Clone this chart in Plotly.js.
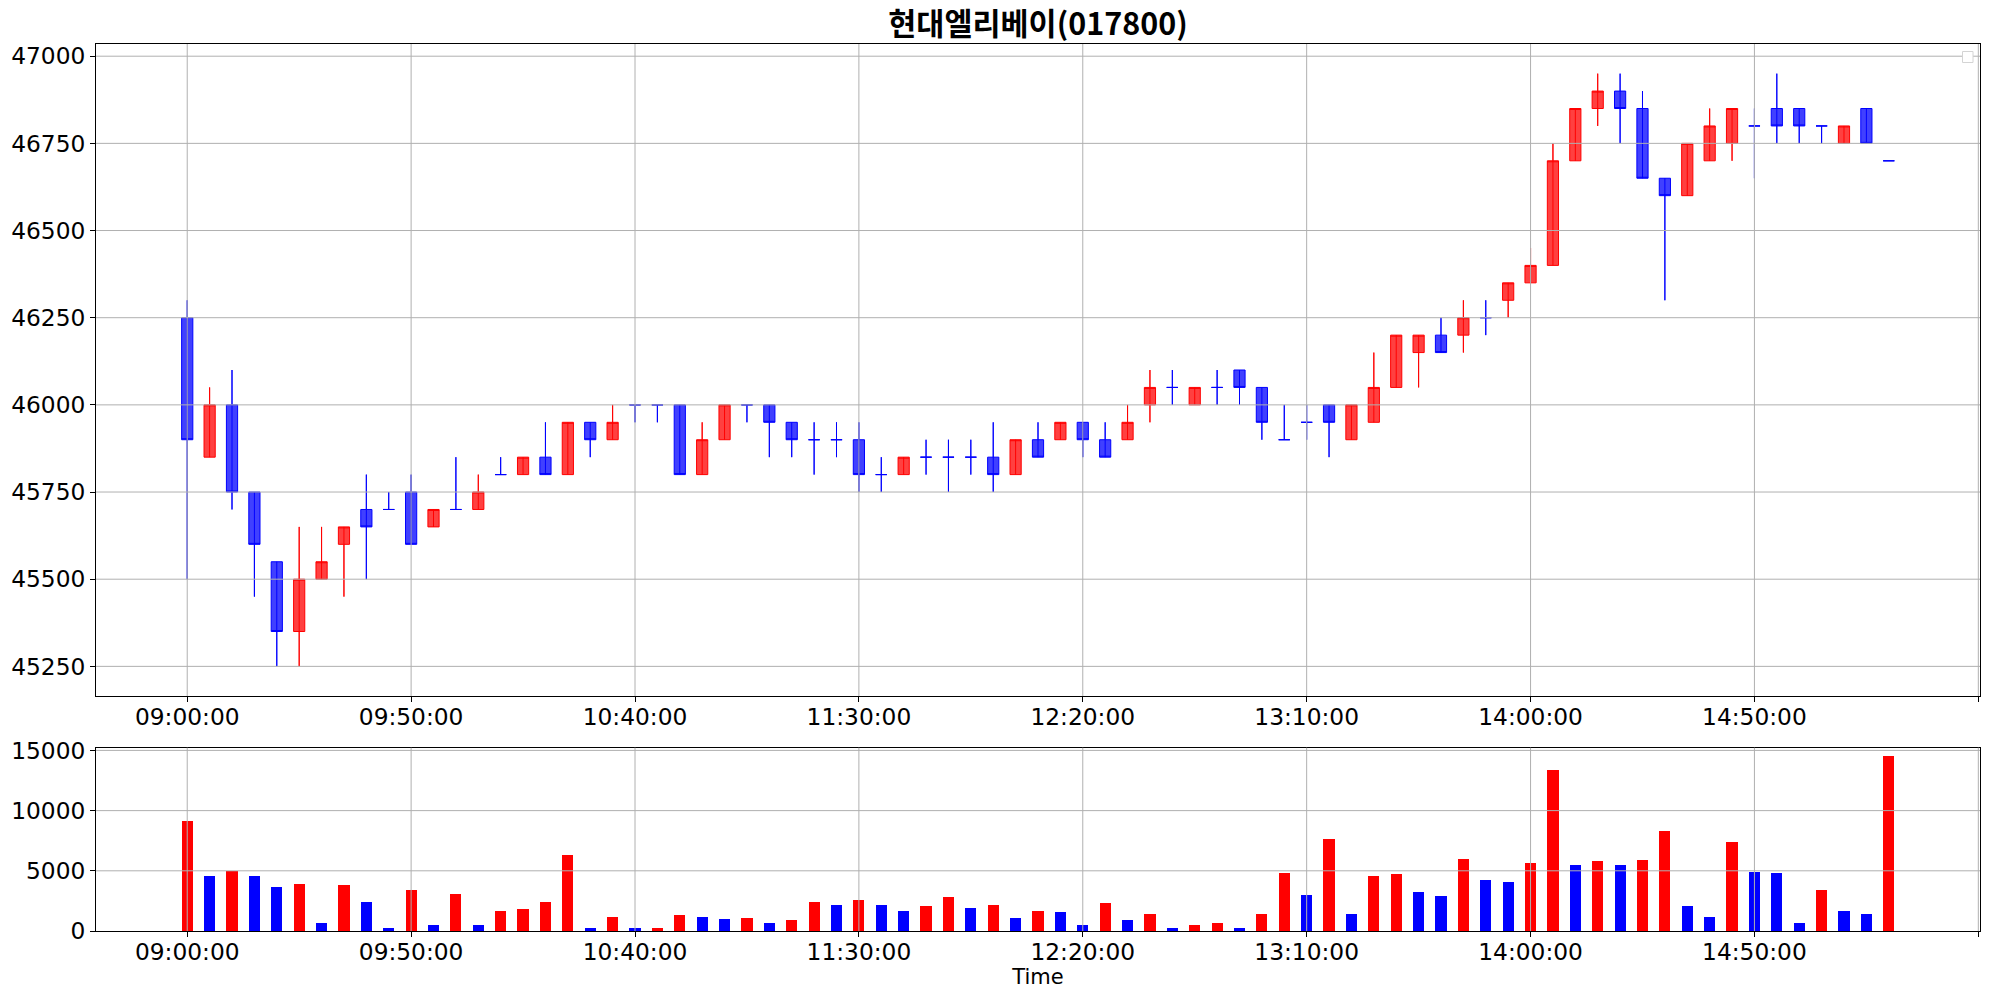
<!DOCTYPE html>
<html>
<head>
<meta charset="utf-8">
<script src="https://cdn.plot.ly/plotly-3.0.1.min.js"></script>
<style>html,body{margin:0;padding:0;background:#fff}#chart{width:1989px;height:999px}</style>
</head>
<body>
<div id="chart"></div>
<script>
const chartTitle = '현대엘리베이(017800)';
const xTitle = 'Time';

const times = [
 '09:00:00','09:05:00','09:10:00','09:15:00','09:20:00','09:25:00','09:30:00','09:35:00','09:40:00','09:45:00',
 '09:50:00','09:55:00','10:00:00','10:05:00','10:10:00','10:15:00','10:20:00','10:25:00','10:30:00','10:35:00',
 '10:40:00','10:45:00','10:50:00','10:55:00','11:00:00','11:05:00','11:10:00','11:15:00','11:20:00','11:25:00',
 '11:30:00','11:35:00','11:40:00','11:45:00','11:50:00','11:55:00','12:00:00','12:05:00','12:10:00','12:15:00',
 '12:20:00','12:25:00','12:30:00','12:35:00','12:40:00','12:45:00','12:50:00','12:55:00','13:00:00','13:05:00',
 '13:10:00','13:15:00','13:20:00','13:25:00','13:30:00','13:35:00','13:40:00','13:45:00','13:50:00','13:55:00',
 '14:00:00','14:05:00','14:10:00','14:15:00','14:20:00','14:25:00','14:30:00','14:35:00','14:40:00','14:45:00',
 '14:50:00','14:55:00','15:00:00','15:05:00','15:10:00','15:15:00','15:20:00'
];

const opens = [
 46250,45850,46000,45750,45550,45350,45500,45600,45700,45700,
 45750,45650,45700,45700,45800,45800,45850,45800,45950,45900,
 46000,46000,46000,45800,45900,46000,46000,45950,45900,45900,
 45900,45800,45800,45850,45850,45850,45850,45800,45900,45900,
 45950,45900,45900,46000,46050,46000,46050,46100,46050,45900,
 45950,46000,45900,45950,46050,46150,46200,46200,46250,46300,
 46350,46400,46700,46850,46900,46850,46650,46600,46700,46750,
 46800,46850,46850,46800,46750,46850,46700
];
const highs = [
 46300,46050,46100,45750,45550,45650,45650,45650,45800,45750,
 45800,45700,45850,45800,45850,45850,45950,45950,45950,46000,
 46000,46000,46000,45950,46000,46000,46000,45950,45950,45950,
 45950,45850,45850,45900,45900,45900,45950,45900,45950,45950,
 45950,45950,46000,46100,46100,46050,46100,46100,46050,46000,
 46000,46000,46000,46150,46200,46200,46250,46300,46300,46350,
 46450,46750,46850,46950,46950,46900,46650,46750,46850,46850,
 46850,46950,46850,46800,46800,46850,46700
];
const lows = [
 45500,45850,45700,45450,45250,45250,45500,45450,45500,45700,
 45600,45650,45700,45700,45800,45800,45800,45800,45850,45900,
 45950,45950,45800,45800,45900,45950,45850,45850,45800,45850,
 45750,45750,45800,45800,45750,45800,45750,45800,45850,45900,
 45850,45850,45900,45950,46000,46000,46000,46000,45900,45900,
 45900,45850,45900,45950,46050,46050,46150,46150,46200,46250,
 46350,46400,46700,46800,46750,46650,46300,46600,46700,46700,
 46650,46750,46750,46750,46750,46750,46700
];
const closes = [
 45900,46000,45750,45600,45350,45500,45550,45650,45650,45700,
 45600,45700,45700,45750,45800,45850,45800,45950,45900,45950,
 46000,46000,45800,45900,46000,46000,45950,45900,45900,45900,
 45800,45800,45850,45850,45850,45850,45800,45900,45850,45950,
 45900,45850,45950,46050,46050,46050,46050,46050,45950,45900,
 45950,45950,46000,46050,46200,46200,46150,46250,46250,46350,
 46400,46700,46850,46900,46850,46650,46600,46750,46800,46850,
 46800,46800,46800,46800,46800,46750,46700
];
const volumes = [
 9100,4550,4950,4550,3650,3900,700,3800,2400,250,
 3400,500,3050,500,1650,1800,2400,6300,250,1150,
 250,250,1300,1150,1000,1050,650,900,2450,2200,
 2550,2150,1700,2050,2800,1950,2200,1050,1700,1550,
 500,2300,900,1400,250,500,650,250,1400,4800,
 2950,7650,1450,4550,4700,3200,2900,5950,4200,4050,
 5650,13400,5450,5800,5450,5900,8300,2050,1150,7400,
 4900,4800,650,3400,1700,1400,14500
];
const priceTicks = [45250,45500,45750,46000,46250,46500,46750,47000];
const volumeTicks = [0,5000,10000,15000];

// ---------- derived ----------
const idx = times.map((t, i) => i);
const tickIdx = [];
for (let i = 0; i <= Math.ceil(times.length / 10) * 10; i += 10) tickIdx.push(i);
const tickText = tickIdx.map(i => times[i] || '');

const RED = '#ff0000', BLUE = '#0000ff';
const RED_FILL = 'rgba(255,0,0,0.75)', BLUE_FILL = 'rgba(0,0,255,0.75)';

function subset(cond) {
  const s = {x: [], open: [], high: [], low: [], close: []};
  idx.forEach(i => {
    if (cond(i)) {
      s.x.push(i); s.open.push(opens[i]); s.high.push(highs[i]);
      s.low.push(lows[i]); s.close.push(closes[i]);
    }
  });
  return s;
}
const isUp = i => closes[i] > opens[i];
const up = subset(isUp);
const dn = subset(i => !isUp(i));

function candle(s, line, fill) {
  return {
    type: 'candlestick', x: s.x, open: s.open, high: s.high, low: s.low, close: s.close,
    xaxis: 'x', yaxis: 'y', whiskerwidth: 0,
    increasing: {line: {color: line, width: 1}, fillcolor: fill},
    decreasing: {line: {color: line, width: 1}, fillcolor: fill},
    hoverinfo: 'skip', showlegend: false
  };
}
function wicks(s, color) {
  const x = [], y = [];
  s.x.forEach((xi, k) => { x.push(xi, xi, null); y.push(s.low[k], s.high[k], null); });
  return {type: 'scatter', mode: 'lines', x, y, xaxis: 'x', yaxis: 'y',
          line: {color, width: 1}, hoverinfo: 'skip', showlegend: false, connectgaps: false};
}

const volColors = volumes.map((v, i) => (i === 0 || v >= volumes[i - 1]) ? RED : BLUE);

const traces = [
  candle(up, RED, RED_FILL),
  candle(dn, BLUE, BLUE_FILL),
  wicks(up, RED),
  wicks(dn, BLUE),
  {type: 'bar', x: idx, y: volumes, xaxis: 'x2', yaxis: 'y2', width: 0.5,
   marker: {color: volColors, line: {width: 0}}, hoverinfo: 'skip', showlegend: false}
];

// ranges like matplotlib autoscale (5% margins)
const n = times.length;
const barW = 0.5;
const xSpan = (n - 1) + barW;
const xRange = [-barW / 2 - 0.05 * xSpan, (n - 1) + barW / 2 + 0.05 * xSpan];
const pMin = Math.min(...lows), pMax = Math.max(...highs);
const pPad = 0.05 * (pMax - pMin);
const yRange = [pMin - pPad, pMax + pPad];
const vRange = [0, Math.max(...volumes) * 1.05];

// layout geometry (pixels)
const W = 1989, H = 999;
const M = {l: 96, r: 9, t: 44, b: 68};
const plotH = H - M.t - M.b;
const priceBottomPx = 696, volTopPx = 747.7;
const priceDomain = [(H - M.b - priceBottomPx) / plotH, 1];
const volDomain = [0, (H - M.b - volTopPx) / plotH];

const GRID = '#b0b0b0';
const shapes = [];
function vgrid(xref, yref, v) {
  shapes.push({type: 'line', xref, yref: yref + ' domain', x0: v, x1: v, y0: 0, y1: 1,
               line: {color: GRID, width: 1}, layer: 'above'});
}
function hgrid(xref, yref, v) {
  shapes.push({type: 'line', xref: xref + ' domain', yref, x0: 0, x1: 1, y0: v, y1: v,
               line: {color: GRID, width: 1}, layer: 'above'});
}
tickIdx.forEach(t => { vgrid('x', 'y', t); vgrid('x2', 'y2', t); });
priceTicks.forEach(v => hgrid('x', 'y', v));
volumeTicks.filter(v => v > 0).forEach(v => hgrid('x2', 'y2', v));

// empty legend frame (top-right)
const px2x = p => (p - M.l) / (W - M.l - M.r);
const px2y = p => (H - M.b - p) / plotH;
shapes.push({type: 'rect', xref: 'paper', yref: 'paper',
  x0: px2x(1962.5), x1: px2x(1973), y0: px2y(62.5), y1: px2y(51.5),
  line: {color: '#d4d4d4', width: 1}, fillcolor: 'white', layer: 'above'});

const axBase = {
  ticks: 'outside', ticklen: 5, tickwidth: 1, tickcolor: 'black',
  showline: true, linecolor: 'black', linewidth: 1, mirror: true,
  showgrid: false, zeroline: false, fixedrange: true
};

const layout = {
  width: W, height: H,
  margin: {l: M.l, r: M.r, t: M.t, b: M.b, pad: 0},
  paper_bgcolor: 'white', plot_bgcolor: 'white',
  font: {family: 'DejaVu Sans', size: 23.3, color: 'black'},
  showlegend: false,
  boxgap: 0.5, boxgroupgap: 0,
  bargap: 0,
  title: {
    text: chartTitle,
    font: {family: 'Noto Sans CJK KR', size: 30.5, weight: 'bold', color: 'black'},
    xref: 'paper', x: 0.5, xanchor: 'center',
    yref: 'container', y: 1 - 24.5 / H, yanchor: 'middle'
  },
  xaxis: Object.assign({}, axBase, {
    domain: [0, 1], anchor: 'y', range: xRange,
    tickmode: 'array', tickvals: tickIdx, ticktext: tickText,
    ticklabelstandoff: -5,
    rangeslider: {visible: false}
  }),
  yaxis: Object.assign({}, axBase, {
    domain: priceDomain, anchor: 'x', range: yRange,
    tickmode: 'array', tickvals: priceTicks, ticktext: priceTicks.map(String)
  }),
  xaxis2: Object.assign({}, axBase, {
    domain: [0, 1], anchor: 'y2', range: xRange,
    tickmode: 'array', tickvals: tickIdx, ticktext: tickText,
    ticklabelstandoff: -5,
    title: {text: xTitle, font: {size: 21}, standoff: 2}
  }),
  yaxis2: Object.assign({}, axBase, {
    domain: volDomain, anchor: 'x2', range: vRange,
    tickmode: 'array', tickvals: volumeTicks, ticktext: volumeTicks.map(String)
  }),
  shapes
};

Plotly.newPlot('chart', traces, layout, {staticPlot: true, displayModeBar: false});
</script>
</body>
</html>
